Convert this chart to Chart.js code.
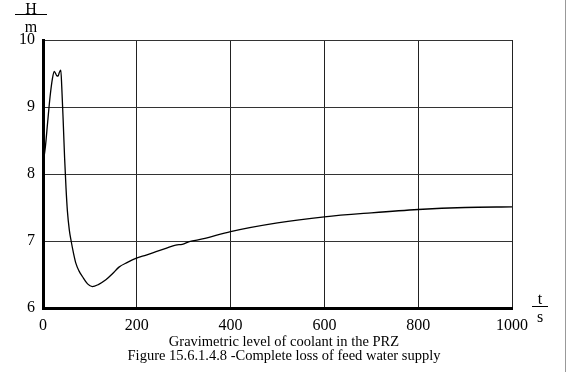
<!DOCTYPE html>
<html>
<head>
<meta charset="utf-8">
<script src="https://cdn.jsdelivr.net/npm/chart.js@4"></script>
<style>
  body { margin: 0; background: #fff; }
  #wrap { position: relative; width: 568px; height: 372px; font-family: "Liberation Serif", serif; color: #000; }
  #wrap canvas { position: absolute; left: 0; top: 0; }
  .lbl { position: absolute; font-size: 16px; line-height: 16px; text-align: center; }
  .frac { border-top: 1px solid #000; }
  .cap { position: absolute; left: 0; width: 568px; text-align: center; font-size: 14.5px; line-height: 15px; }
  #edge { position: absolute; left: 565px; top: 0; width: 1px; height: 372px; background: #999; }
</style>
</head>
<body>
<div id="wrap">
  <canvas id="grafico" width="568" height="372"></canvas>
  <div class="lbl" style="left:19px;top:1px;width:24px;">H</div>
  <div class="lbl frac" style="left:15px;top:14px;width:32px;padding-top:4px;">m</div>
  <div class="lbl" style="left:532px;top:291px;width:16px;">t</div>
  <div class="lbl frac" style="left:532px;top:306px;width:16px;padding-top:2px;">s</div>
  <div class="cap" style="top:334px;">Gravimetric level of coolant in the PRZ</div>
  <div class="cap" style="top:348px;">Figure 15.6.1.4.8 -Complete loss of feed water supply</div>
  <div id="edge"></div>
</div>
<script>
// tempo (s) e nivel (m)
const tempo = [0, 5, 10, 15, 20, 24, 29, 32, 35, 38, 40, 43, 46, 49, 52, 56, 60, 65, 70, 77, 84, 95, 105, 118, 134, 148, 162, 180, 198, 220, 241, 262, 283, 297, 312, 340, 400, 500, 600, 700, 800, 900, 1000];
const nivel = [8.15, 8.4, 8.78, 9.15, 9.42, 9.53, 9.47, 9.46, 9.52, 9.55, 9.3, 8.8, 8.25, 7.8, 7.45, 7.17, 7.0, 6.82, 6.67, 6.55, 6.47, 6.36, 6.32, 6.35, 6.42, 6.51, 6.61, 6.68, 6.74, 6.79, 6.84, 6.89, 6.94, 6.95, 6.99, 7.03, 7.14, 7.27, 7.36, 7.42, 7.47, 7.5, 7.51];

const ticksX = [0, 200, 400, 600, 800, 1000];
const ticksY = [6, 7, 8, 9, 10];

const pontos = tempo.map((t, i) => ({ x: t, y: nivel[i] }));

const fonte = { family: "Liberation Serif", size: 16 };

new Chart(document.getElementById("grafico"), {
  type: "scatter",
  data: {
    datasets: [
      {
        data: pontos,
        showLine: true,
        borderColor: "#000",
        borderWidth: 1.3,
        pointRadius: 0,
        cubicInterpolationMode: "monotone",
      },
    ],
  },
  options: {
    responsive: false,
    animation: false,
    layout: { padding: { left: 0, right: 56, top: 40, bottom: 0 } },
    plugins: { legend: { display: false }, tooltip: { enabled: false } },
    scales: {
      x: {
        type: "linear",
        min: 0,
        max: 1000,
        afterBuildTicks: (s) => { s.ticks = ticksX.map((v) => ({ value: v })); },
        afterFit: (s) => { s.height = 64; },
        ticks: { color: "#000", font: fonte, padding: 8, maxRotation: 0, callback: (v) => String(v) },
        grid: { color: "#222", lineWidth: 1, drawTicks: false },
        border: { color: "#000", width: 3 },
      },
      y: {
        min: 6,
        max: 10,
        afterBuildTicks: (s) => { s.ticks = ticksY.map((v) => ({ value: v })); },
        afterFit: (s) => { s.width = 43; },
        ticks: { color: "#000", font: fonte, padding: 8, callback: (v) => String(v) },
        grid: { color: "#333", lineWidth: 1, drawTicks: false },
        border: { color: "#000", width: 3 },
      },
    },
  },
});
</script>
</body>
</html>
